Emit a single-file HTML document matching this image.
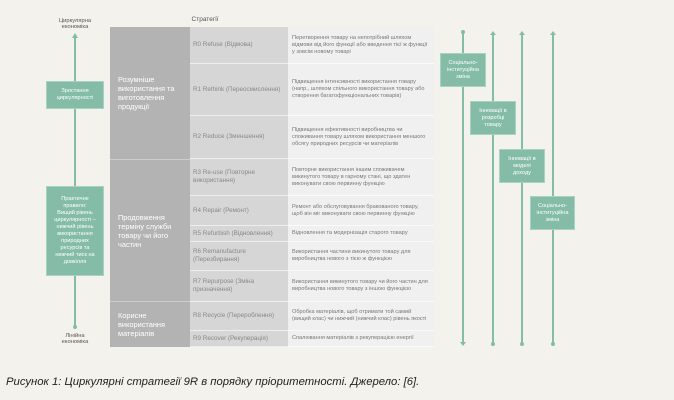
<!DOCTYPE html>
<html><head><meta charset="utf-8"><style>
*{margin:0;padding:0;box-sizing:border-box}
body{width:674px;height:400px;background:#f3f2ec;font-family:"Liberation Sans",sans-serif;position:relative;overflow:hidden}
.a{position:absolute}
.c1{background:#b3b3b3;color:#fff;font-size:7.4px;line-height:9px;padding:0 8px;display:flex;align-items:center}
.c2{background:#d6d6d6;color:#888;font-size:6.3px;line-height:8px;padding:0 3px;display:flex;align-items:center;border-bottom:1px solid #eee}
.c3{background:#f0f0f0;color:#777;font-size:5.6px;line-height:7px;padding:0 4px;display:flex;align-items:center;border-bottom:1px solid #fafafa}
.g{background:#84bca8;color:#fff;font-size:5.6px;line-height:7px;text-align:center;display:flex;align-items:center;justify-content:center;border:1px solid #a8d2c2}
.ln{position:absolute;width:1.5px;background:#84bca8}
.lbl{position:absolute;font-size:5.8px;line-height:6px;color:#555;text-align:center}
</style></head><body>
<div class="lbl" style="left:50px;top:18px;width:50px">Циркулярна<br>економіка</div>
<div class="lbl" style="left:180px;top:17px;width:50px;font-size:6.5px">Стратегії</div>
<div class="lbl" style="left:50px;top:333px;width:50px">Лінійна<br>економіка</div>
<div class="ln" style="left:74px;top:37px;height:290px"></div>
<div class="a" style="left:72px;top:33px;border:3px solid transparent;border-bottom:5px solid #84bca8;border-top:0"></div>
<div class="a" style="left:72.5px;top:325px;width:4px;height:4px;border-radius:2px;background:#84bca8"></div>
<div class="a g" style="left:46px;top:81px;width:58px;height:28px">Зростання<br>циркулярності</div>
<div class="a g" style="left:46px;top:186px;width:58px;height:90px">Практичне<br>правило:<br>Вищий рівень<br>циркулярності –<br>нижчий рівень<br>використання<br>природних<br>ресурсів та<br>нижчий тиск на<br>довкілля</div>

<div class="a c1" style="left:110px;top:27px;width:80px;height:132px">Розумніше використання та виготовлення продукції</div>
<div class="a c1" style="left:110px;top:159px;width:80px;height:142px;border-top:1px solid #ccc">Продовження терміну служби товару чи його частин</div>
<div class="a c1" style="left:110px;top:301px;width:80px;height:46px;border-top:1px solid #ccc">Корисне використання матеріалів</div>

<div class="a c2" style="left:190px;top:27px;width:98px;height:37px">R0 Refuse (Відмова)</div>
<div class="a c2" style="left:190px;top:64px;width:98px;height:52px">R1 Rethink (Переосмислення)</div>
<div class="a c2" style="left:190px;top:116px;width:98px;height:43px">R2 Reduce (Зменшення)</div>
<div class="a c2" style="left:190px;top:159px;width:98px;height:37px">R3 Re-use (Повторне використання)</div>
<div class="a c2" style="left:190px;top:196px;width:98px;height:30px">R4 Repair (Ремонт)</div>
<div class="a c2" style="left:190px;top:226px;width:98px;height:16px">R5 Refurbish (Відновлення)</div>
<div class="a c2" style="left:190px;top:242px;width:98px;height:29px">R6 Remanufacture (Перезбирання)</div>
<div class="a c2" style="left:190px;top:271px;width:98px;height:31px">R7 Repurpose (Зміна призначення)</div>
<div class="a c2" style="left:190px;top:302px;width:98px;height:29px">R8 Recycle (Перероблення)</div>
<div class="a c2" style="left:190px;top:331px;width:98px;height:16px">R9 Recover (Рекуперація)</div>

<div class="a c3" style="left:288px;top:27px;width:146px;height:37px">Перетворення товару на непотрібний шляхом відмови від його функції або введення тієї ж функції у зовсім новому товарі</div>
<div class="a c3" style="left:288px;top:64px;width:146px;height:52px">Підвищення інтенсивності використання товару (напр., шляхом спільного використання товару або створення багатофункціональних товарів)</div>
<div class="a c3" style="left:288px;top:116px;width:146px;height:43px">Підвищення ефективності виробництва чи споживання товару шляхом використання меншого обсягу природних ресурсів чи матеріалів</div>
<div class="a c3" style="left:288px;top:159px;width:146px;height:37px">Повторне використання іншим споживачем викинутого товару в гарному стані, що здатен виконувати свою первинну функцію</div>
<div class="a c3" style="left:288px;top:196px;width:146px;height:30px">Ремонт або обслуговування бракованого товару, щоб він міг виконувати свою первинну функцію</div>
<div class="a c3" style="left:288px;top:226px;width:146px;height:16px">Відновлення та модернізація старого товару</div>
<div class="a c3" style="left:288px;top:242px;width:146px;height:29px">Використання частини викинутого товару для виробництва нового з тією ж функцією</div>
<div class="a c3" style="left:288px;top:271px;width:146px;height:31px">Використання викинутого товару чи його частин для виробництва нового товару з іншою функцією</div>
<div class="a c3" style="left:288px;top:302px;width:146px;height:29px">Обробка матеріалів, щоб отримати той самий (вищий клас) чи нижчий (нижчий клас) рівень якості</div>
<div class="a c3" style="left:288px;top:331px;width:146px;height:16px">Спалювання матеріалів з рекуперацією енергії</div>

<div class="ln" style="left:462px;top:32px;height:310px"></div>
<div class="ln" style="left:492px;top:34px;height:310px"></div>
<div class="ln" style="left:521px;top:34px;height:310px"></div>
<div class="ln" style="left:552px;top:34px;height:310px"></div>
<div class="a" style="left:460.5px;top:30px;width:4px;height:4px;border-radius:2px;background:#84bca8"></div>
<div class="a" style="left:490px;top:31px;border:3px solid transparent;border-bottom:4px solid #84bca8;border-top:0"></div>
<div class="a" style="left:519px;top:31px;border:3px solid transparent;border-bottom:4px solid #84bca8;border-top:0"></div>
<div class="a" style="left:550px;top:31px;border:3px solid transparent;border-bottom:4px solid #84bca8;border-top:0"></div>
<div class="a" style="left:460px;top:342px;border:3px solid transparent;border-top:4px solid #84bca8;border-bottom:0"></div>
<div class="a" style="left:490.5px;top:342px;width:4px;height:4px;border-radius:2px;background:#84bca8"></div>
<div class="a" style="left:519.5px;top:342px;width:4px;height:4px;border-radius:2px;background:#84bca8"></div>
<div class="a" style="left:550.5px;top:342px;width:4px;height:4px;border-radius:2px;background:#84bca8"></div>
<div class="a g" style="left:440px;top:53px;width:46px;height:34px">Соціально-<br>інституційна<br>зміна</div>
<div class="a g" style="left:470px;top:101px;width:46px;height:34px">Інновації в<br>розробці<br>товару</div>
<div class="a g" style="left:499px;top:149px;width:46px;height:34px">Інновації в<br>моделі<br>доходу</div>
<div class="a g" style="left:530px;top:196px;width:45px;height:34px">Соціально-<br>інституційна<br>зміна</div>

<div class="a" style="left:6px;top:376px;font-size:11.3px;font-style:italic;color:#222">Рисунок 1: Циркулярні стратегії 9R в порядку пріоритетності. Джерело: [6].</div>
</body></html>
